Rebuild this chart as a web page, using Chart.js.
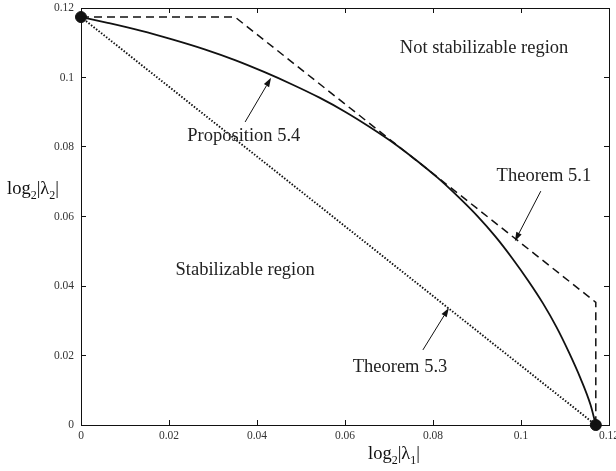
<!DOCTYPE html>
<html>
<head>
<meta charset="utf-8">
<script src="https://cdn.jsdelivr.net/npm/chart.js@4.4.1/dist/chart.umd.min.js"></script>
<style>
  html, body { margin: 0; padding: 0; background: #fff; }
  #wrap { width: 616px; height: 471px; position: relative; }
</style>
</head>
<body>
<div id="wrap"><canvas id="c"></canvas></div>
<script>
// ---- data ----
const xTicks = [0, 0.02, 0.04, 0.06, 0.08, 0.1, 0.12];
const yTicks = [0, 0.02, 0.04, 0.06, 0.08, 0.1, 0.12];

// Proposition 5.4 boundary (solid)
const propX = [0, 0.0058, 0.0135, 0.0209, 0.0281, 0.0350, 0.0416, 0.0480, 0.0542, 0.0601, 0.0657, 0.0711, 0.0762,
               0.0811, 0.0857, 0.0901, 0.0942, 0.0980, 0.1016, 0.1050, 0.1081, 0.1109, 0.1135, 0.1158, 0.1170];
const propY = [0.1174, 0.1158, 0.1135, 0.1109, 0.1081, 0.1050, 0.1016, 0.0980, 0.0942, 0.0901, 0.0857, 0.0811, 0.0762,
               0.0711, 0.0657, 0.0601, 0.0542, 0.0480, 0.0416, 0.0350, 0.0281, 0.0209, 0.0135, 0.0058, 0];

// Theorem 5.1 bound (dashed)
const thm51X = [0, 0.035, 0.117, 0.117];
const thm51Y = [0.1174, 0.1174, 0.0353, 0];

// Theorem 5.3 bound (dotted)
const thm53X = [0, 0.117];
const thm53Y = [0.1174, 0];

// end points
const endX = [0, 0.117];
const endY = [0.1174, 0];

// text labels (data coordinates)
const labelText = ["Not stabilizable region", "Proposition 5.4", "Theorem 5.1", "Stabilizable region", "Theorem 5.3"];
const labelX = [0.0916, 0.0370, 0.1052, 0.0373, 0.0725];
const labelY = [0.1085, 0.0832, 0.0717, 0.0446, 0.0167];

// arrows: tail -> tip (data coordinates)
const arrowTailX = [0.0373, 0.1045, 0.0777];
const arrowTailY = [0.0872, 0.0673, 0.0216];
const arrowTipX  = [0.0432, 0.0986, 0.0836];
const arrowTipY  = [0.0999, 0.0529, 0.0337];

const toPts = (xs, ys) => xs.map((x, i) => ({ x: x, y: ys[i] }));

const SERIF = "'Liberation Serif', 'Times New Roman', serif";

const annotPlugin = {
  id: 'annot',
  afterDatasetsDraw(chart) {
    const ctx = chart.ctx;
    const xs = chart.scales.x, ys = chart.scales.y;
    ctx.save();
    // labels
    ctx.fillStyle = '#222';
    ctx.font = '18.5px ' + SERIF;
    ctx.textAlign = 'center';
    ctx.textBaseline = 'middle';
    labelText.forEach((t, i) => {
      ctx.fillText(t, xs.getPixelForValue(labelX[i]), ys.getPixelForValue(labelY[i]));
    });
    // arrows
    ctx.strokeStyle = '#111';
    ctx.fillStyle = '#111';
    ctx.lineWidth = 1;
    arrowTailX.forEach((_, i) => {
      const x0 = xs.getPixelForValue(arrowTailX[i]), y0 = ys.getPixelForValue(arrowTailY[i]);
      const x1 = xs.getPixelForValue(arrowTipX[i]), y1 = ys.getPixelForValue(arrowTipY[i]);
      const a = Math.atan2(y1 - y0, x1 - x0);
      const L = 9, W = 3;
      const bx = x1 - L * Math.cos(a), by = y1 - L * Math.sin(a);
      ctx.beginPath();
      ctx.moveTo(x0, y0);
      ctx.lineTo(bx, by);
      ctx.stroke();
      ctx.beginPath();
      ctx.moveTo(x1, y1);
      ctx.lineTo(bx + W * Math.sin(a), by - W * Math.cos(a));
      ctx.lineTo(bx - W * Math.sin(a), by + W * Math.cos(a));
      ctx.closePath();
      ctx.fill();
    });
    // axis titles with subscripts
    const drawSub = (parts, x, y) => {
      let cx = x;
      parts.forEach(p => {
        ctx.font = (p.sub ? '12px ' : '18.5px ') + SERIF;
        ctx.textAlign = 'left';
        ctx.textBaseline = 'alphabetic';
        ctx.fillText(p.t, cx, y + (p.sub ? 4.5 : 0));
        cx += ctx.measureText(p.t).width;
      });
    };
    const ca = chart.chartArea;
    drawSub([{t: 'log'}, {t: '2', sub: true}, {t: '|\u03bb'}, {t: '1', sub: true}, {t: '|'}], ca.left + 287, ca.bottom + 34);
    drawSub([{t: 'log'}, {t: '2', sub: true}, {t: '|\u03bb'}, {t: '2', sub: true}, {t: '|'}], 7, ca.top + 186);
    ctx.restore();
  }
};

const fmt = v => String(+(+v).toFixed(2));
const tickFont = { family: SERIF, size: 11.5 };

new Chart(document.getElementById('c'), {
  type: 'scatter',
  data: {
    datasets: [
      { data: toPts(thm53X, thm53Y), showLine: true, borderColor: '#111', borderWidth: 1.9, borderDash: [1.5, 1.7], pointRadius: 0, fill: false },
      { data: toPts(thm51X, thm51Y), showLine: true, borderColor: '#111', borderWidth: 1.5, borderDash: [8, 5], pointRadius: 0, fill: false },
      { data: toPts(propX, propY), showLine: true, borderColor: '#111', borderWidth: 1.8, pointRadius: 0, fill: false, cubicInterpolationMode: 'monotone' },
      { data: toPts(endX, endY), showLine: false, pointRadius: 5.5, pointBackgroundColor: '#111', pointBorderColor: '#111', clip: false }
    ]
  },
  options: {
    responsive: true,
    maintainAspectRatio: false,
    animation: false,
    layout: { padding: 0 },
    plugins: { legend: { display: false }, tooltip: { enabled: false } },
    scales: {
      x: {
        type: 'linear', position: 'bottom', min: 0, max: 0.12,
        afterBuildTicks: s => { s.ticks = xTicks.map(v => ({ value: v })); },
        afterFit: s => { s.height = 46; s.paddingLeft = 0; s.paddingRight = 0; },
        grid: { drawOnChartArea: false, tickLength: -5, color: '#111', tickWidth: 1 },
        border: { display: true, color: '#111', width: 1 },
        ticks: { callback: fmt, font: tickFont, color: '#333', padding: 9, maxRotation: 0, autoSkip: false }
      },
      y: {
        type: 'linear', position: 'left', min: 0, max: 0.12,
        afterBuildTicks: s => { s.ticks = yTicks.map(v => ({ value: v })); },
        afterFit: s => { s.width = 81; s.paddingTop = 0; s.paddingBottom = 0; },
        grid: { drawOnChartArea: false, tickLength: -5, color: '#111', tickWidth: 1 },
        border: { display: true, color: '#111', width: 1 },
        ticks: { callback: fmt, font: tickFont, color: '#333', padding: 12, autoSkip: false }
      },
      x2: {
        type: 'linear', position: 'top', min: 0, max: 0.12,
        afterBuildTicks: s => { s.ticks = xTicks.map(v => ({ value: v })); },
        afterFit: s => { s.height = 8; s.paddingLeft = 0; s.paddingRight = 0; },
        grid: { drawOnChartArea: false, tickLength: -5, color: '#111', tickWidth: 1 },
        border: { display: true, color: '#111', width: 1 },
        ticks: { display: false }
      },
      y2: {
        type: 'linear', position: 'right', min: 0, max: 0.12,
        afterBuildTicks: s => { s.ticks = yTicks.map(v => ({ value: v })); },
        afterFit: s => { s.width = 7; s.paddingTop = 0; s.paddingBottom = 0; },
        grid: { drawOnChartArea: false, tickLength: -5, color: '#111', tickWidth: 1 },
        border: { display: true, color: '#111', width: 1 },
        ticks: { display: false }
      }
    }
  },
  plugins: [annotPlugin]
});
</script>
</body>
</html>
